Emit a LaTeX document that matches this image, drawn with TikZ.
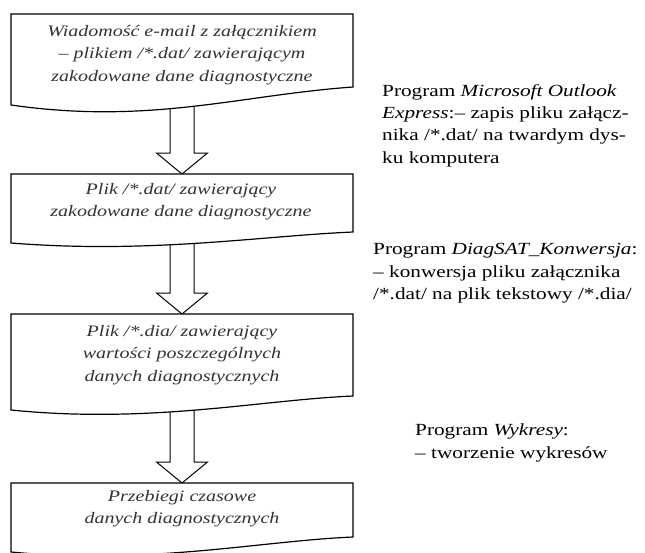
\documentclass[tikz,border=0pt]{standalone}
\usepackage{fontspec}
\setmainfont{Liberation Serif}[FakeStretch=1.25]
\usetikzlibrary{calc}

% strzalka blokowa od punktu #1 do punktu #2
\newcommand{\strzalka}[2]{%
  \draw[strz] ($(#1)+(-12,0)$) -- ($(#2)+(-12,-21)$) -- ($(#2)+(-25.5,-21)$)
    -- (#2) -- ($(#2)+(25.5,-21)$) -- ($(#2)+(12,-21)$) -- ($(#1)+(12,0)$);}

\begin{document}
\begin{tikzpicture}[x=1pt,y=-1pt,
    ramka/.style={draw,fill=white,line width=1.2pt},
    strz/.style={draw,fill=white,line width=1pt},
    opis/.style={font=\fontsize{16}{22.5}\selectfont\itshape,align=center,text=black!80},
    uwaga/.style={font=\fontsize{17}{22.3}\selectfont,align=left,anchor=west,inner sep=0pt}]
  \clip (0,0) rectangle (645,552);
  \fill[white] (0,0) rectangle (645,552);
  % punkty zaczepienia strzalek
  \coordinate (d1) at (182,95);  \coordinate (g2) at (182,174);
  \coordinate (d2) at (182,230); \coordinate (g3) at (182,314);
  \coordinate (d3) at (182,395); \coordinate (g4) at (182,483);
  \strzalka{d1}{g2}
  \strzalka{d2}{g3}
  \strzalka{d3}{g4}
  % ramki (dokumenty)
  \draw[ramka] (11,14) -- (353,14) -- (353,87) .. controls (240,95) and (150,125) .. (11,105) -- cycle;
  \draw[ramka] (11,174) -- (353,174) -- (353,232) .. controls (260,236) and (150,254) .. (11,243) -- cycle;
  \draw[ramka] (11,314) -- (353,314) -- (353,396) .. controls (260,400) and (150,424) .. (11,410) -- cycle;
  \draw[ramka] (11,483) -- (353,483) -- (353,537) .. controls (260,541) and (150,565) .. (11,552) -- cycle;
  \node[opis] (b1) at (182,55) {Wiadomość e-mail z załącznikiem\\– plikiem /*.dat/ zawierającym\\zakodowane dane diagnostyczne};
  \node[opis] (b2) at (181,201.5) {Plik /*.dat/ zawierający\\zakodowane dane diagnostyczne};
  \node[opis] (b3) at (182,355) {Plik /*.dia/ zawierający\\wartości poszczególnych\\danych diagnostycznych};
  \node[opis] (b4) at (182,508.5) {Przebiegi czasowe\\danych diagnostycznych};
  % opisy programow
  \node[uwaga] (p1) at (382,125.5) {Program \textit{Microsoft Outlook}\\\textit{Express}:– zapis pliku załącz-\\nika /*.dat/ na twardym dys-\\ku komputera};
  \node[uwaga] (p2) at (373,273.5) {Program \textit{DiagSAT\_Konwersja}:\\– konwersja pliku załącznika\\/*.dat/ na plik tekstowy /*.dia/};
  \node[uwaga] (p3) at (415,443) {Program \textit{Wykresy}:\\– tworzenie wykresów};
\end{tikzpicture}
\end{document}
